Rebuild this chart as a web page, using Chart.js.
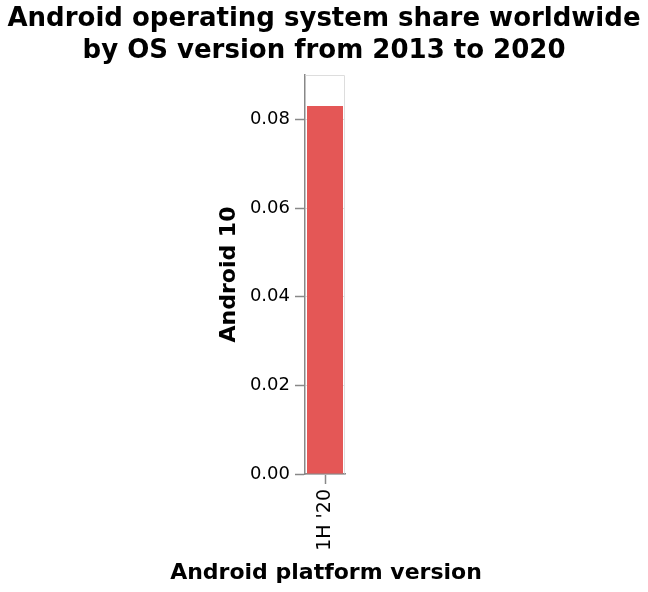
<!DOCTYPE html>
<html>
<head>
<meta charset="utf-8">
<script src="https://cdn.jsdelivr.net/npm/chart.js@4"></script>
<style>
html,body{margin:0;padding:0;background:#fff;}
#wrap{width:648px;height:592px;}
</style>
</head>
<body>
<div id="wrap"><canvas id="c" width="648" height="592"></canvas></div>
<script>
const titleLines = ["Android operating system share worldwide", "by OS version from 2013 to 2020"];
const categories = ["1H '20"];
const android10Share = [0.083];
const yTickValues = [0, 0.02, 0.04, 0.06, 0.08];
const yMax = 0.09;
const xTitle = "Android platform version";
const yTitle = "Android 10";

const FONT = "'DejaVu Sans', sans-serif";
const AXIS = '#888888';

const frame = {
  id: 'frame',
  beforeDatasetsDraw(chart) {
    const {ctx, chartArea: a} = chart;
    ctx.save();
    ctx.strokeStyle = '#dddddd';
    ctx.lineWidth = 1;
    const l = Math.round(a.left) + 0.5, r = Math.round(a.right) - 0.5;
    const t = Math.round(a.top) + 0.5, b = Math.round(a.bottom) - 0.5;
    ctx.beginPath();
    ctx.moveTo(l, t); ctx.lineTo(r, t); ctx.lineTo(r, b);
    ctx.stroke();
    ctx.restore();
  }
};

// x-axis title drawn without the scale's width limit
const xAxisTitle = {
  id: 'xAxisTitle',
  afterDraw(chart) {
    const s = chart.scales.x;
    const {ctx} = chart;
    ctx.save();
    ctx.fillStyle = '#000';
    ctx.font = "bold 22px " + FONT;
    ctx.textAlign = 'center';
    ctx.textBaseline = 'middle';
    ctx.fillText(xTitle, (s.left + s.right) / 2 + 1, s.bottom - 19);
    ctx.restore();
  }
};

new Chart(document.getElementById('c'), {
  type: 'bar',
  data: {
    labels: categories,
    datasets: [{
      label: yTitle,
      data: android10Share,
      backgroundColor: '#e45756',
      borderWidth: 0,
      categoryPercentage: 1.0,
      barPercentage: 0.9
    }]
  },
  options: {
    responsive: false,
    devicePixelRatio: 1,
    animation: false,
    layout: { padding: 0 },
    plugins: {
      legend: { display: false },
      tooltip: { enabled: false },
      title: {
        display: true,
        text: titleLines,
        color: '#000',
        font: { family: FONT, size: 26, weight: 'bold', lineHeight: 1.2 },
        padding: { top: 4, bottom: 8.6 }
      }
    },
    scales: {
      x: {
        afterFit(s) { s.height = 118; },
        grid: { display: true, offset: false, drawOnChartArea: false, drawTicks: true, tickLength: 10, tickColor: AXIS, tickWidth: 1.5 },
        border: { display: true, color: AXIS, width: 1.5 },
        ticks: {
          color: '#000',
          font: { family: FONT, size: 19 },
          minRotation: 90, maxRotation: 90,
          padding: 5,
          autoSkip: false
        },
        title: { display: false }
      },
      y: {
        min: 0,
        max: yMax,
        afterFit(s) { s.width = 305; },
        afterBuildTicks(s) { s.ticks = yTickValues.map(v => ({ value: v })); },
        grid: { display: true, drawOnChartArea: true, color: '#dddddd', drawTicks: true, tickLength: 10, tickColor: AXIS, tickWidth: 1.5 },
        border: { display: true, color: AXIS, width: 1.5 },
        ticks: {
          color: '#000',
          font: { family: FONT, size: 18 },
          padding: 5,
          callback: v => Number(v).toFixed(2)
        },
        title: {
          display: true,
          text: yTitle,
          color: '#000',
          font: { family: FONT, size: 22, weight: 'bold', lineHeight: 1.2 },
          padding: { top: 216, bottom: 0 }
        }
      },
      spacer: {
        type: 'linear',
        position: 'right',
        display: true,
        afterFit(s) { s.width = 303; },
        grid: { display: false },
        border: { display: false },
        ticks: { display: false },
        title: { display: false }
      }
    }
  },
  plugins: [frame, xAxisTitle]
});
</script>
</body>
</html>
